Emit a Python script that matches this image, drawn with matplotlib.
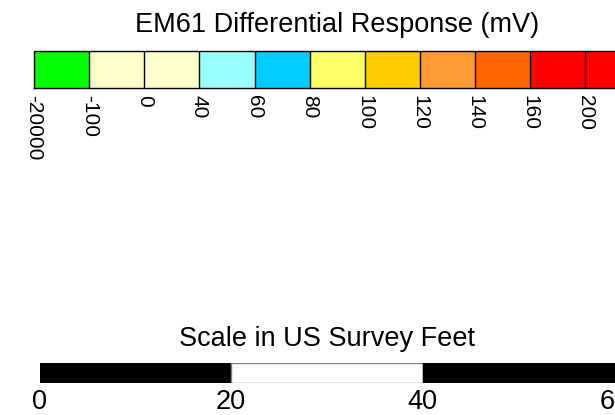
import numpy as np
import matplotlib
matplotlib.use("Agg")
import matplotlib.pyplot as plt
import matplotlib.colors as mcolors
import matplotlib.cm as cm

plt.rcParams['font.family'] = ['Liberation Sans', 'DejaVu Sans']

# Legend data
bounds = [-20000, -100, 0, 40, 60, 80, 100, 120, 140, 160, 200, 20000]
bound_labels = ['-20000', '-100', '0', '40', '60', '80', '100', '120', '140', '160', '200', '']
box_colors = ['#00FF00', '#FFFFCC', '#FFFFCC', '#99FFFF', '#00CCFF', '#FFFF66',
              '#FFCC00', '#FF9933', '#FF6600', '#FF0000', '#FF0000']

# Scale bar data (feet)
scale_edges = [0, 20, 40, 60]
scale_colors = ['black', 'white', 'black']
scale_labels = ['0', '20', '40', '60']

W, H = 615, 415
fig = plt.figure(figsize=(W / 100, H / 100), dpi=100)

# colour legend (extends past right edge like the original)
cax = fig.add_axes([34 / W, (H - 88.5) / H, 606.6 / W, 38 / H])
cmap = mcolors.ListedColormap(box_colors)
norm = mcolors.BoundaryNorm(bounds, cmap.N)
sm = cm.ScalarMappable(norm=norm, cmap=cmap)
cbar = fig.colorbar(sm, cax=cax, orientation='horizontal', spacing='uniform', drawedges=True)
cbar.set_ticks(bounds, labels=bound_labels)
cbar.outline.set_linewidth(1.0)
cbar.outline.set_edgecolor('black')
cbar.dividers.set_color('black')
cbar.dividers.set_linewidth(1.0)
cax.tick_params(length=0, labelsize=15, pad=5)
for t in cax.get_xticklabels():
    t.set_rotation(-90)
    t.set_va('top')
    t.set_ha('center')
cax.set_title('EM61 Differential Response (mV)', fontsize=19.5, pad=13)

# scale bar
sax = fig.add_axes([39.5 / W, (H - 383) / H, 575 / W, 20.3 / H])
for i in range(len(scale_colors)):
    ec = 'black' if scale_colors[i] == 'black' else '#808080'
    sax.barh(0, scale_edges[i + 1] - scale_edges[i], left=scale_edges[i], height=1,
             color=scale_colors[i], edgecolor=ec, linewidth=1)
sax.set_xlim(scale_edges[0], scale_edges[-1])
sax.set_ylim(-0.5, 0.5)
sax.set_yticks([])
sax.set_xticks(scale_edges, labels=scale_labels)
sax.tick_params(length=0, labelsize=19.5, pad=4)
for s in sax.spines.values():
    s.set_visible(False)
sax.set_title('Scale in US Survey Feet', fontsize=19.5, pad=12)

fig.savefig('out.png', dpi=100)
